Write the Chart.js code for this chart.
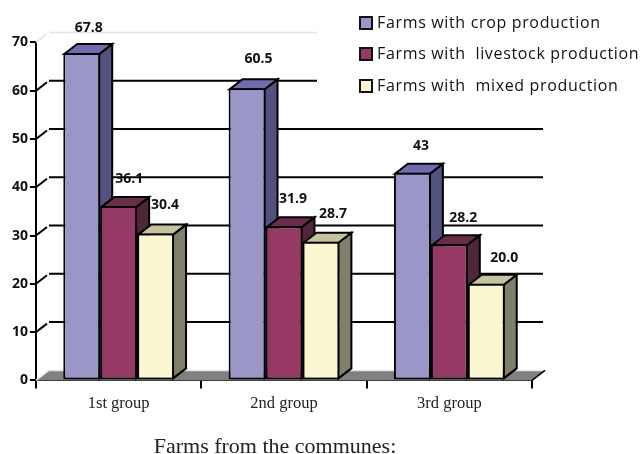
<!DOCTYPE html>
<html>
<head>
<meta charset="utf-8">
<script src="https://cdn.jsdelivr.net/npm/chart.js@4/dist/chart.umd.min.js"></script>
<style>
  html, body { margin: 0; padding: 0; background: #fff; }
  #wrap { position: relative; width: 640px; height: 454px; overflow: hidden; }
  /* white legend box hides the top grid lines, same as the original */
  #legend { position: absolute; left: 317px; top: 0; right: 0; height: 100px; box-sizing: border-box; padding: 7px 0 0 42px; background: #fff; font: 16px "Open Sans", sans-serif; letter-spacing: .66px; color: #111; }
  #legend div { height: 31.3px; line-height: 31px; white-space: pre; position: relative; padding-left: 18px; }
  #legend i { position: absolute; left: 0; top: 9px; width: 10px; height: 10px; border: 2px solid #111; }
</style>
</head>
<body>
<div id="wrap">
  <canvas id="chart" width="640" height="454"></canvas>
  <div id="legend"></div>
</div>
<script>
const categories = ['1st group', '2nd group', '3rd group'];
const cropValues = [67.8, 60.5, 43];
const livestockValues = [36.1, 31.9, 28.2];
const mixedValues = [30.4, 28.7, 20.0];
const cropLabels = ['67.8', '60.5', '43'];
const livestockLabels = ['36.1', '31.9', '28.2'];
const mixedLabels = ['30.4', '28.7', '20.0'];
const seriesNames = ['Farms with crop production', 'Farms with  livestock production', 'Farms with  mixed production'];
const yTicks = [0, 10, 20, 30, 40, 50, 60, 70];
const axisCaption = 'Farms from the communes:';

// depth of the fake 3D box
const DX = 13, DY = 10;

const seriesColors = [
  { front: '#9a97c8', top: '#6f6db0', side: '#525180' },
  { front: '#943a65', top: '#6b2c4a', side: '#4f2738' },
  { front: '#faf6cf', top: '#c5c49c', side: '#80806a' }
];
const seriesLabels = [cropLabels, livestockLabels, mixedLabels];
// label shift from the bar's top centre, same order as the series
const labelShift = [
  [[7, -26], [11.5, -30], [8.5, -28]],
  [[10.5, -28], [9, -28], [14, -27]],
  [[9.5, -30], [12, -29], [18, -27]]
];

function poly(ctx, pts, fill) {
  ctx.beginPath();
  pts.forEach((p, i) => i ? ctx.lineTo(p[0], p[1]) : ctx.moveTo(p[0], p[1]));
  ctx.closePath();
  ctx.fillStyle = fill;
  ctx.fill();
  ctx.stroke();
}

const box3d = {
  id: 'box3d',
  beforeDatasetsDraw(chart) {
    const { ctx, chartArea: a, scales: { y } } = chart;
    const b = y.getPixelForValue(0);
    ctx.save();
    // floor
    ctx.fillStyle = '#808080';
    ctx.beginPath();
    ctx.moveTo(a.left, b);
    ctx.lineTo(a.left + DX, b - DY);
    ctx.lineTo(a.right + DX, b - DY);
    ctx.lineTo(a.right, b);
    ctx.closePath();
    ctx.fill();
    ctx.lineWidth = 1.5;
    ctx.strokeStyle = '#e4e4e4';
    ctx.beginPath();
    ctx.moveTo(a.left, b);
    ctx.lineTo(a.left + DX, b - DY);
    ctx.lineTo(a.right + DX - 2, b - DY);
    ctx.stroke();
    ctx.strokeStyle = '#000';
    ctx.beginPath();
    ctx.moveTo(a.right, b);
    ctx.lineTo(a.right + DX, b - DY);
    ctx.stroke();
    // back wall lines
    yTicks.forEach(v => {
      if (v === 0) return;
      const py = y.getPixelForValue(v);
      ctx.strokeStyle = v === 70 ? '#e4e4e4' : '#000';
      ctx.lineWidth = v === 70 ? 1.5 : 2;
      ctx.beginPath();
      ctx.moveTo(a.left, py);
      ctx.lineTo(a.left + DX - 2, py - DY + 1.5);
      ctx.moveTo(a.left + DX, py - DY);
      ctx.lineTo(a.right + DX - 2, py - DY);
      ctx.stroke();
    });
    // top and side faces, left to right, the library puts the fronts on top
    ctx.strokeStyle = '#000';
    ctx.lineWidth = 2;
    ctx.lineJoin = 'miter';
    seriesColors.forEach((c, i) => {
      chart.getDatasetMeta(i).data.forEach(el => {
        const p = el.getProps(['x', 'y', 'base', 'width'], true);
        const l = p.x - p.width / 2 + 1, r = p.x + p.width / 2 - 1;
        const t = p.y + 1, bot = p.base - 1;
        poly(ctx, [[r, t], [r + DX, t - DY], [r + DX, bot - DY], [r, bot]], c.side);
        poly(ctx, [[l, t], [l + DX, t - DY], [r + DX, t - DY], [r, t]], c.top);
      });
    });
    ctx.restore();
  },
  afterDatasetsDraw(chart) {
    const { ctx, chartArea: a } = chart;
    ctx.save();
    ctx.fillStyle = '#111';
    ctx.font = 'bold 14px "Open Sans", sans-serif';
    ctx.textAlign = 'center';
    ctx.textBaseline = 'middle';
    chart.getSortedVisibleDatasetMetas().forEach(meta => {
      meta.data.forEach((el, i) => {
        const s = labelShift[meta.index][i];
        ctx.fillText(seriesLabels[meta.index][i], el.x + s[0], el.y + s[1] + 1);
      });
    });
    ctx.fillStyle = '#222';
    ctx.font = '22px "Liberation Serif", serif';
    ctx.fillText(axisCaption, (a.left + a.right) / 2 - 9, 447);
    ctx.restore();
  }
};

const chart = new Chart(document.getElementById('chart'), {
  type: 'bar',
  data: {
    labels: categories,
    datasets: [cropValues, livestockValues, mixedValues].map((values, i) => ({
      label: seriesNames[i],
      data: values,
      backgroundColor: seriesColors[i].front,
      borderColor: '#000',
      borderWidth: 2,
      borderSkipped: false,
      categoryPercentage: 0.67,
      barPercentage: 1,
      clip: false
    }))
  },
  options: {
    responsive: false,
    animation: false,
    devicePixelRatio: 1,
    layout: { padding: { top: 42.4, right: 108 } },
    plugins: { legend: { display: false }, tooltip: { enabled: false } },
    scales: {
      x: {
        afterFit: s => { s.height = 73.6; },
        grid: { drawOnChartArea: false, color: '#000', lineWidth: 2, tickLength: 8 },
        border: { color: '#000', width: 2 },
        ticks: { color: '#222', padding: 5, font: { family: '"Liberation Serif", serif', size: 16.5 } }
      },
      y: {
        min: 0,
        max: 70,
        afterFit: s => { s.width = 36; },
        afterBuildTicks: s => { s.ticks = yTicks.map(v => ({ value: v })); },
        grid: { drawOnChartArea: false, color: '#000', lineWidth: 2, tickLength: 6 },
        border: { color: '#000', width: 2 },
        ticks: { color: '#111', padding: 2, font: { family: '"Open Sans", sans-serif', size: 14, weight: 'bold' } }
      }
    }
  },
  plugins: [box3d]
});

// html legend next to the plot
document.getElementById('legend').innerHTML = seriesNames.map((name, i) =>
  '<div><i style="background:' + seriesColors[i].front + '"></i>' + name + '</div>').join('');
</script>
</body>
</html>
